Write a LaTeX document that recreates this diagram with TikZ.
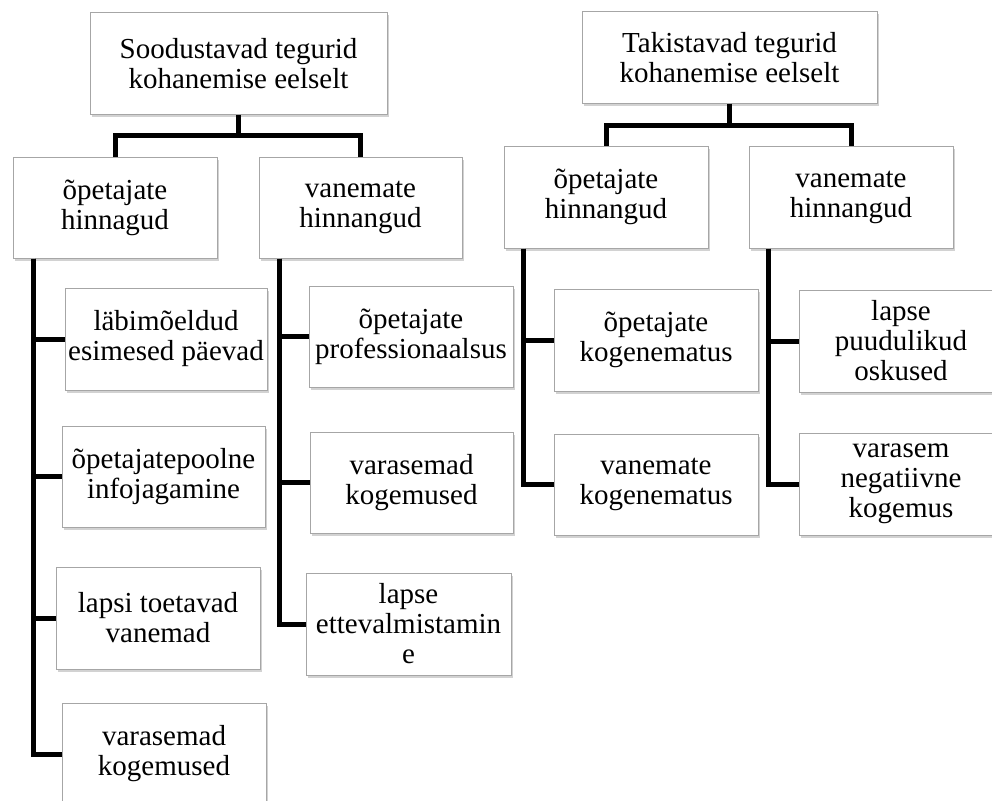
\documentclass[tikz,border=0pt]{standalone}
\usepackage{fontspec}
\setmainfont{Liberation Serif}
\usetikzlibrary{shadows}
\definecolor{boxline}{HTML}{A6A6A6}
\tikzset{
  box/.style={draw=boxline, line width=1pt, fill=white, rectangle, inner sep=0pt,
    align=center, font=\fontsize{29pt}{30pt}\selectfont,
    drop shadow={shadow xshift=1.5pt, shadow yshift=-2.5pt, opacity=0.35, fill=gray}},
  conn/.style={line width=5pt, black, line join=miter}
}
\begin{document}
\begin{tikzpicture}[x=1pt, y=-1pt]
\clip (0,0) rectangle (992,800);
\fill[white] (0,0) rectangle (992,800);
% left tree
\node[box, minimum width=297pt, minimum height=101pt] (r1) at (238.5,63.5) {Soodustavad tegurid\\kohanemise eelselt};
\node[box, minimum width=204pt, minimum height=101pt] (a) at (115,207.5) {õpetajate\\hinnagud};
\node[box, minimum width=203pt, minimum height=101pt] (b) at (360.5,207.5) {vanemate\\hinnangud};
\node[box, minimum width=202pt, minimum height=102pt] (a1) at (166,339) {läbimõeldud\\esimesed päevad};
\node[box, minimum width=203pt, minimum height=101pt] (a2) at (163.5,476.5) {õpetajatepoolne\\infojagamine};
\node[box, minimum width=204pt, minimum height=102pt] (a3) at (158,618) {lapsi toetavad\\vanemad};
\node[box, minimum width=204pt, minimum height=102pt] (a4) at (164,754) {varasemad\\kogemused};
\node[box, minimum width=204pt, minimum height=101pt] (b1) at (411,336.5) {õpetajate\\professionaalsus};
\node[box, minimum width=203pt, minimum height=101pt] (b2) at (411.5,482.5) {varasemad\\kogemused};
\node[box, minimum width=205pt, minimum height=102pt] (b3) at (408.5,624) {lapse\\ettevalmistamin\\e};
% right tree
\node[box, minimum width=295pt, minimum height=91pt] (r2) at (729.5,57.5) {Takistavad tegurid\\kohanemise eelselt};
\node[box, minimum width=204pt, minimum height=102pt] (c) at (606,197) {õpetajate\\hinnangud};
\node[box, minimum width=204pt, minimum height=102pt] (d) at (851,197) {vanemate\\hinnangud};
\node[box, minimum width=204pt, minimum height=102pt] (c1) at (656,340) {õpetajate\\kogenematus};
\node[box, minimum width=204pt, minimum height=101pt] (c2) at (656,484.5) {vanemate\\kogenematus};
\node[box, minimum width=204pt, minimum height=102pt] (d1) at (901,341) {lapse\\puudulikud\\oskused};
\node[box, minimum width=204pt, minimum height=102pt] (d2) at (901,484) {varasem\\negatiivne\\kogemus};
% connectors left
\coordinate (j1) at ([yshift=-21pt]r1.south);
\draw[conn] (r1.south) -- (j1);
\draw[conn] (a.north) |- (j1) -| (b.north);
\draw[conn] ([xshift=21pt]a.south west) |- (a4.west);
\draw[conn] ([xshift=21pt]a.south west) |- (a1.west);
\draw[conn] ([xshift=21pt]a.south west) |- (a2.west);
\draw[conn] ([xshift=21pt]a.south west) |- (a3.west);
\draw[conn] ([xshift=21pt]b.south west) |- (b3.west);
\draw[conn] ([xshift=21pt]b.south west) |- (b1.west);
\draw[conn] ([xshift=21pt]b.south west) |- (b2.west);
% connectors right
\coordinate (j2) at ([yshift=-22pt]r2.south);
\draw[conn] (r2.south) -- (j2);
\draw[conn] (c.north) |- (j2) -| (d.north);
\draw[conn] ([xshift=20pt]c.south west) |- (c2.west);
\draw[conn] ([xshift=20pt]c.south west) |- (c1.west);
\draw[conn] ([xshift=20pt]d.south west) |- (d2.west);
\draw[conn] ([xshift=20pt]d.south west) |- (d1.west);
\end{tikzpicture}
\end{document}
